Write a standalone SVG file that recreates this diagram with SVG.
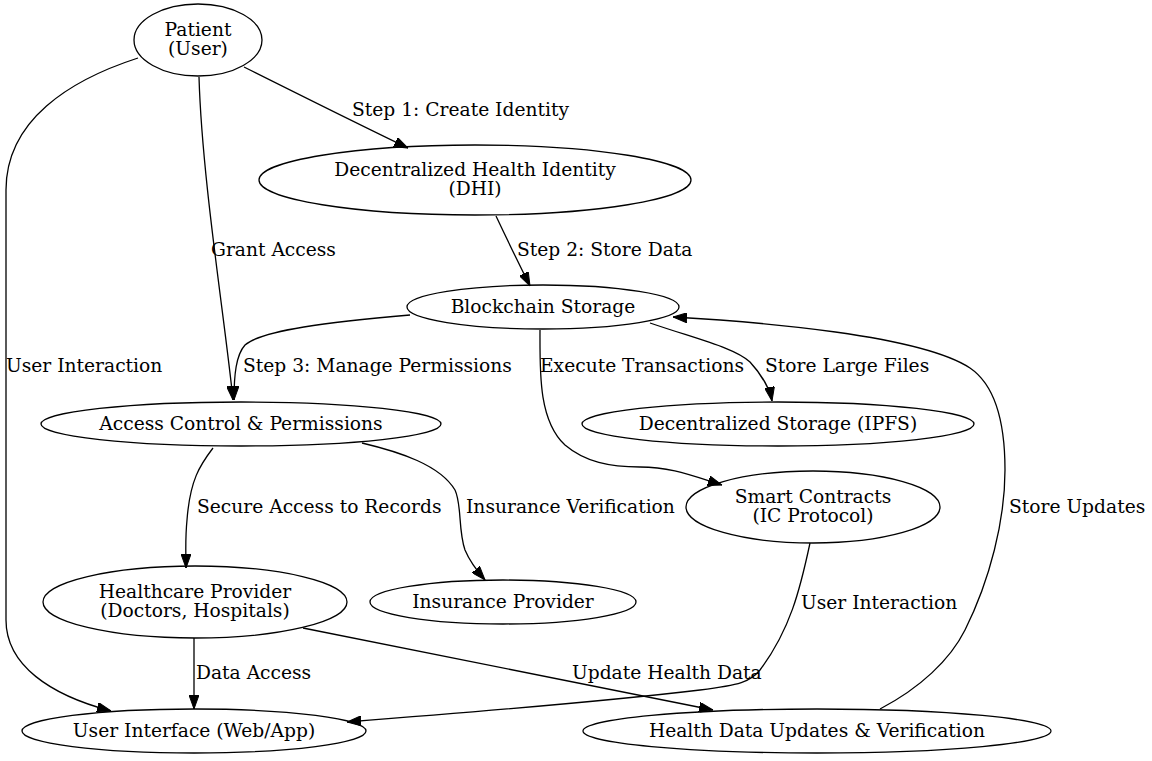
<svg xmlns="http://www.w3.org/2000/svg" width="1152" height="761" viewBox="0 0 1152 761">
<defs>
<style>
.n ellipse{fill:none;stroke:#000;stroke-width:1.3}
text{font-family:"DejaVu Serif","Liberation Serif",serif;font-size:18.67px;fill:#000}
.n text{text-anchor:middle}
.e path{fill:none;stroke:#000;stroke-width:1.3;marker-end:url(#ah)}
</style>
<marker id="ah" markerUnits="userSpaceOnUse" viewBox="0 0 14 10" refX="14" refY="5" markerWidth="14" markerHeight="10" orient="auto">
<path d="M0,0 L14,5 L0,10 z" fill="#000" stroke="#000"/>
</marker>
</defs>
<rect width="1152" height="761" fill="#fff"/>
<g id="connectors" class="e">
<path d="M244,67 C290,90 360,125 408,148"/>
<text x="352" y="116">Step 1: Create Identity</text>
<path d="M496,216 C505,235 518,262 530,286"/>
<text x="517" y="256">Step 2: Store Data</text>
<path d="M199,77 C202,180 225,320 233,400"/>
<text x="211" y="256">Grant Access</text>
<path d="M138,58 C70,80 6,120 6,190 L6,620 C6,665 50,695 111,711"/>
<text x="6" y="372">User Interaction</text>
<path d="M410,315 C330,322 262,330 245,345 C236,355 234,375 234,400"/>
<text x="243" y="372">Step 3: Manage Permissions</text>
<path d="M540,330 C540,370 538,420 565,445 C585,462 610,467 640,467 C670,467 690,475 722,485"/>
<text x="540" y="372">Execute Transactions</text>
<path d="M650,323 C700,340 735,348 750,362 C762,375 770,390 772,401"/>
<text x="765" y="372">Store Large Files</text>
<path d="M213,448 C200,465 190,480 187,520 C185,540 186,555 186,568"/>
<text x="197" y="513">Secure Access to Records</text>
<path d="M362,443 C400,452 440,465 455,490 C462,505 458,530 465,550 C470,562 478,572 485,580"/>
<text x="466" y="513">Insurance Verification</text>
<path d="M810,543 C800,590 790,630 760,670 C750,682 740,685 700,690 C600,702 450,714 347,722"/>
<text x="801" y="609">User Interaction</text>
<path d="M194,638 L194,709"/>
<text x="196" y="679">Data Access</text>
<path d="M303,628 L713,710"/>
<text x="572" y="679">Update Health Data</text>
<path d="M880,709 C920,688 950,660 965,630 C990,580 1005,520 1005,470 C1005,420 995,385 970,368 C920,335 760,322 673,317"/>
<text x="1009" y="513">Store Updates</text>
</g>
<g id="patient" class="n"><ellipse cx="198" cy="40" rx="64" ry="36"/><text x="198" y="36">Patient</text><text x="198" y="55">(User)</text></g>
<g id="dhi" class="n"><ellipse cx="475" cy="180" rx="216" ry="35"/><text x="475" y="176">Decentralized Health Identity</text><text x="475" y="195">(DHI)</text></g>
<g id="blockchain" class="n"><ellipse cx="543" cy="307" rx="136" ry="22"/><text x="543" y="313">Blockchain Storage</text></g>
<g id="access" class="n"><ellipse cx="241" cy="424" rx="200" ry="22"/><text x="241" y="430">Access Control &amp; Permissions</text></g>
<g id="ipfs" class="n"><ellipse cx="778" cy="424" rx="196" ry="22"/><text x="778" y="430">Decentralized Storage (IPFS)</text></g>
<g id="smart" class="n"><ellipse cx="813" cy="507" rx="127" ry="36"/><text x="813" y="503">Smart Contracts</text><text x="813" y="522">(IC Protocol)</text></g>
<g id="healthcare" class="n"><ellipse cx="195" cy="602" rx="152" ry="36"/><text x="195" y="598">Healthcare Provider</text><text x="195" y="617">(Doctors, Hospitals)</text></g>
<g id="insurance" class="n"><ellipse cx="503" cy="602" rx="133" ry="22"/><text x="503" y="608">Insurance Provider</text></g>
<g id="ui" class="n"><ellipse cx="194" cy="731" rx="172" ry="22"/><text x="194" y="737">User Interface (Web/App)</text></g>
<g id="updates" class="n"><ellipse cx="817" cy="731" rx="234" ry="22"/><text x="817" y="737">Health Data Updates &amp; Verification</text></g>
</svg>
